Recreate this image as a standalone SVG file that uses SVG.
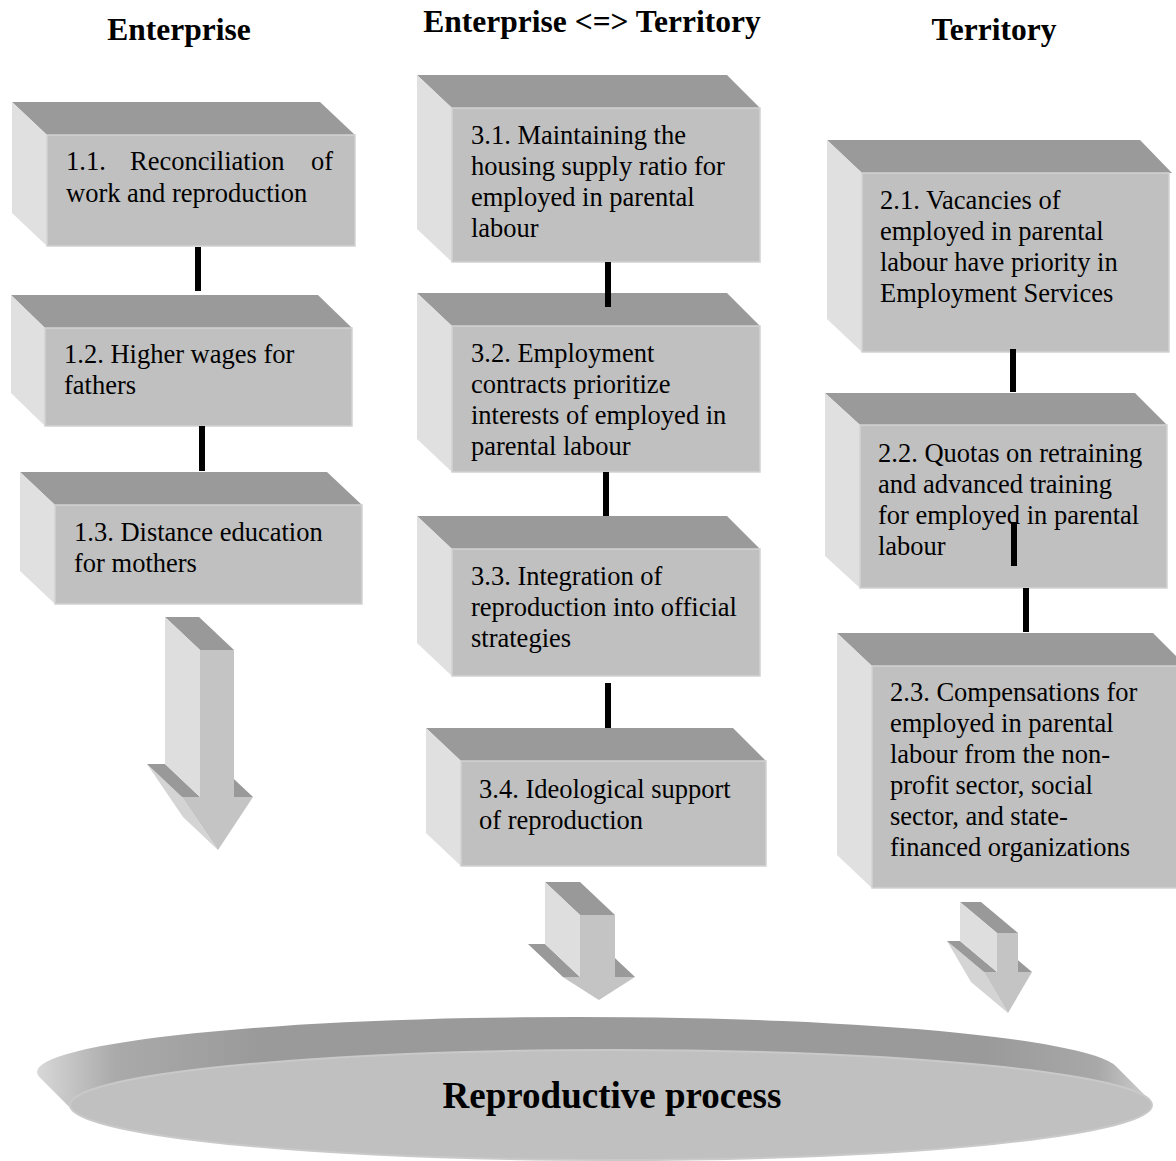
<svg xmlns="http://www.w3.org/2000/svg" width="1176" height="1161" viewBox="0 0 1176 1161">
<defs>
<style>
.top{fill:#9a9a9a}
.side{fill:#e0e0e0}
.front{fill:#c0c0c0;stroke:#d2d2d2;stroke-width:1.5}
.lbl{font-family:"Liberation Serif","Times New Roman",serif;font-size:26.5px;fill:#000}
.hdr{font-family:"Liberation Serif","Times New Roman",serif;font-size:31.5px;font-weight:bold;fill:#000;text-anchor:middle}
.bar{fill:#000}
.atop{fill:#999999}
.aside{fill:#dedede}
.ahead{fill:#d4d4d4}
.afront{fill:#c4c4c4}
</style>
<linearGradient id="rim" gradientUnits="userSpaceOnUse" x1="37" y1="0" x2="1153" y2="0">
<stop offset="0" stop-color="#d8d8d8"/>
<stop offset="0.07" stop-color="#aaaaaa"/>
<stop offset="0.2" stop-color="#9a9a9a"/>
<stop offset="0.85" stop-color="#9a9a9a"/>
<stop offset="0.95" stop-color="#a8a8a8"/>
<stop offset="1" stop-color="#d0d0d0"/>
</linearGradient>
</defs>
<rect width="1176" height="1161" fill="#ffffff"/>

<g id="headers">
<text class="hdr" x="179" y="40">Enterprise</text>
<text class="hdr" x="592" y="32">Enterprise &lt;=&gt; Territory</text>
<text class="hdr" x="994" y="40">Territory</text>
</g>

<g id="n1_1">
<polygon class="top" points="12,102 320,102 355,135 47,135"/>
<polygon class="side" points="12,102 47,135 47,246 12,213"/>
<rect class="front" x="47" y="135" width="308" height="111"/>
<text class="lbl" y="170"><tspan x="66">1.1.</tspan><tspan x="130">Reconciliation</tspan><tspan x="311">of</tspan></text>
<text class="lbl" x="66" y="202">work and reproduction</text>
</g>

<g id="n1_2">
<polygon class="top" points="11,295 318,295 352,328 45,328"/>
<polygon class="side" points="11,295 45,328 45,426 11,393"/>
<rect class="front" x="45" y="328" width="307" height="98"/>
<text class="lbl" x="64" y="363">1.2. Higher wages for</text>
<text class="lbl" x="64" y="394">fathers</text>
</g>

<g id="n1_3">
<polygon class="top" points="20,472 327,472 362,505 55,505"/>
<polygon class="side" points="20,472 55,505 55,604 20,571"/>
<rect class="front" x="55" y="505" width="307" height="99"/>
<text class="lbl" x="74" y="541">1.3. Distance education</text>
<text class="lbl" x="74" y="572">for mothers</text>
</g>

<g id="n3_1">
<polygon class="top" points="417,75 727,75 760,108 452,108"/>
<polygon class="side" points="417,75 452,108 452,262 417,229"/>
<rect class="front" x="452" y="108" width="308" height="154"/>
<text class="lbl" x="471" y="144">3.1. Maintaining the</text>
<text class="lbl" x="471" y="175">housing supply ratio for</text>
<text class="lbl" x="471" y="206">employed in parental</text>
<text class="lbl" x="471" y="237">labour</text>
</g>

<g id="n3_2">
<polygon class="top" points="417,293 727,293 760,326 452,326"/>
<polygon class="side" points="417,293 452,326 452,472 417,439"/>
<rect class="front" x="452" y="326" width="308" height="146"/>
<text class="lbl" x="471" y="362">3.2. Employment</text>
<text class="lbl" x="471" y="393">contracts prioritize</text>
<text class="lbl" x="471" y="424">interests of employed in</text>
<text class="lbl" x="471" y="455">parental labour</text>
</g>

<g id="n3_3">
<polygon class="top" points="417,516 727,516 760,549 452,549"/>
<polygon class="side" points="417,516 452,549 452,676 417,643"/>
<rect class="front" x="452" y="549" width="308" height="127"/>
<text class="lbl" x="471" y="585">3.3. Integration of</text>
<text class="lbl" x="471" y="616">reproduction into official</text>
<text class="lbl" x="471" y="647">strategies</text>
</g>

<g id="n3_4">
<polygon class="top" points="426,728 733,728 766,761 461,761"/>
<polygon class="side" points="426,728 461,761 461,866 426,833"/>
<rect class="front" x="461" y="761" width="305" height="105"/>
<text class="lbl" x="479" y="798">3.4. Ideological support</text>
<text class="lbl" x="479" y="829">of reproduction</text>
</g>

<g id="n2_1">
<polygon class="top" points="827,140 1140,140 1172,173 862,173"/>
<polygon class="side" points="827,140 862,173 862,352 827,319"/>
<rect class="front" x="862" y="173" width="307" height="179"/>
<text class="lbl" x="880" y="209">2.1. Vacancies of</text>
<text class="lbl" x="880" y="240">employed in parental</text>
<text class="lbl" x="880" y="271">labour have priority in</text>
<text class="lbl" x="880" y="302">Employment Services</text>
</g>

<g id="n2_2">
<polygon class="top" points="825,393 1135,393 1167,425 860,425"/>
<polygon class="side" points="825,393 860,425 860,588 825,556"/>
<rect class="front" x="860" y="425" width="307" height="163"/>
<text class="lbl" x="878" y="462">2.2. Quotas on retraining</text>
<text class="lbl" x="878" y="493">and advanced training</text>
<text class="lbl" x="878" y="524">for employed in parental</text>
<text class="lbl" x="878" y="555">labour</text>
</g>

<g id="n2_3">
<polygon class="top" points="837,633 1153,633 1186,666 872,666"/>
<polygon class="side" points="837,633 872,666 872,888 837,855"/>
<rect class="front" x="872" y="666" width="314" height="222"/>
<text class="lbl" x="890" y="701">2.3. Compensations for</text>
<text class="lbl" x="890" y="732">employed in parental</text>
<text class="lbl" x="890" y="763">labour from the non-</text>
<text class="lbl" x="890" y="794">profit sector, social</text>
<text class="lbl" x="890" y="825">sector, and state-</text>
<text class="lbl" x="890" y="856">financed organizations</text>
</g>

<g id="reproductive">
<path fill="url(#rim)" d="M 39.8,1077.6 A 541 55 0 0 1 1116.2,1066.4 L 1149.2,1099.4 A 541 55 0 0 1 72.8,1110.6 Z"/>
<ellipse cx="611" cy="1105" rx="541" ry="55" fill="#c0c0c0" stroke="#c9c9c9" stroke-width="2"/>
<text x="612" y="1108" text-anchor="middle" font-family="'Liberation Serif','Times New Roman',serif" font-size="37" font-weight="bold" fill="#000">Reproductive process</text>
</g>

<g id="connectors">
<rect class="bar" x="195" y="247" width="6" height="44"/>
<rect class="bar" x="199" y="426" width="6" height="45"/>
<rect class="bar" x="605" y="262" width="6" height="45"/>
<rect class="bar" x="603" y="472" width="6" height="44"/>
<rect class="bar" x="605" y="683" width="6" height="45"/>
<rect class="bar" x="1010" y="349" width="6" height="43"/>
<rect class="bar" x="1011" y="522" width="6" height="44"/>
<rect class="bar" x="1023" y="588" width="6" height="44"/>

<g id="arrow_left">
<polygon class="ahead" points="147,764 182,797 218,850 183,817"/>
<polygon class="atop" points="147,764 165,764 200,797 182,797"/>
<polygon class="atop" points="199,764 218,764 253,797 234,797"/>
<polygon class="atop" points="165,617 199,617 234,650 200,650"/>
<polygon class="aside" points="165,617 200,650 200,797 165,764"/>
<rect class="afront" x="200" y="650" width="34" height="147"/>
<polygon class="afront" points="182,797 253,797 218,850"/>
</g>

<g id="arrow_mid">
<polygon class="ahead" points="528,944 563,977 599,1000 564,967"/>
<polygon class="atop" points="528,944 545,944 580,977 563,977"/>
<polygon class="atop" points="580,944 600,944 635,977 615,977"/>
<polygon class="atop" points="545,882 580,882 615,915 580,915"/>
<polygon class="aside" points="545,882 580,915 580,977 545,944"/>
<rect class="afront" x="580" y="915" width="35" height="62"/>
<polygon class="afront" points="563,977 635,977 599,1000"/>
</g>

<g id="arrow_right">
<polygon class="ahead" points="947,941 984,972 1008,1013 971,982"/>
<polygon class="atop" points="947,941 960,941 997,972 984,972"/>
<polygon class="atop" points="981,941 995,941 1032,972 1018,972"/>
<polygon class="atop" points="960,902 981,902 1018,933 997,933"/>
<polygon class="aside" points="960,902 997,933 997,972 960,941"/>
<rect class="afront" x="997" y="933" width="21" height="39"/>
<polygon class="afront" points="984,972 1032,972 1008,1013"/>
</g>
</g>
</svg>
